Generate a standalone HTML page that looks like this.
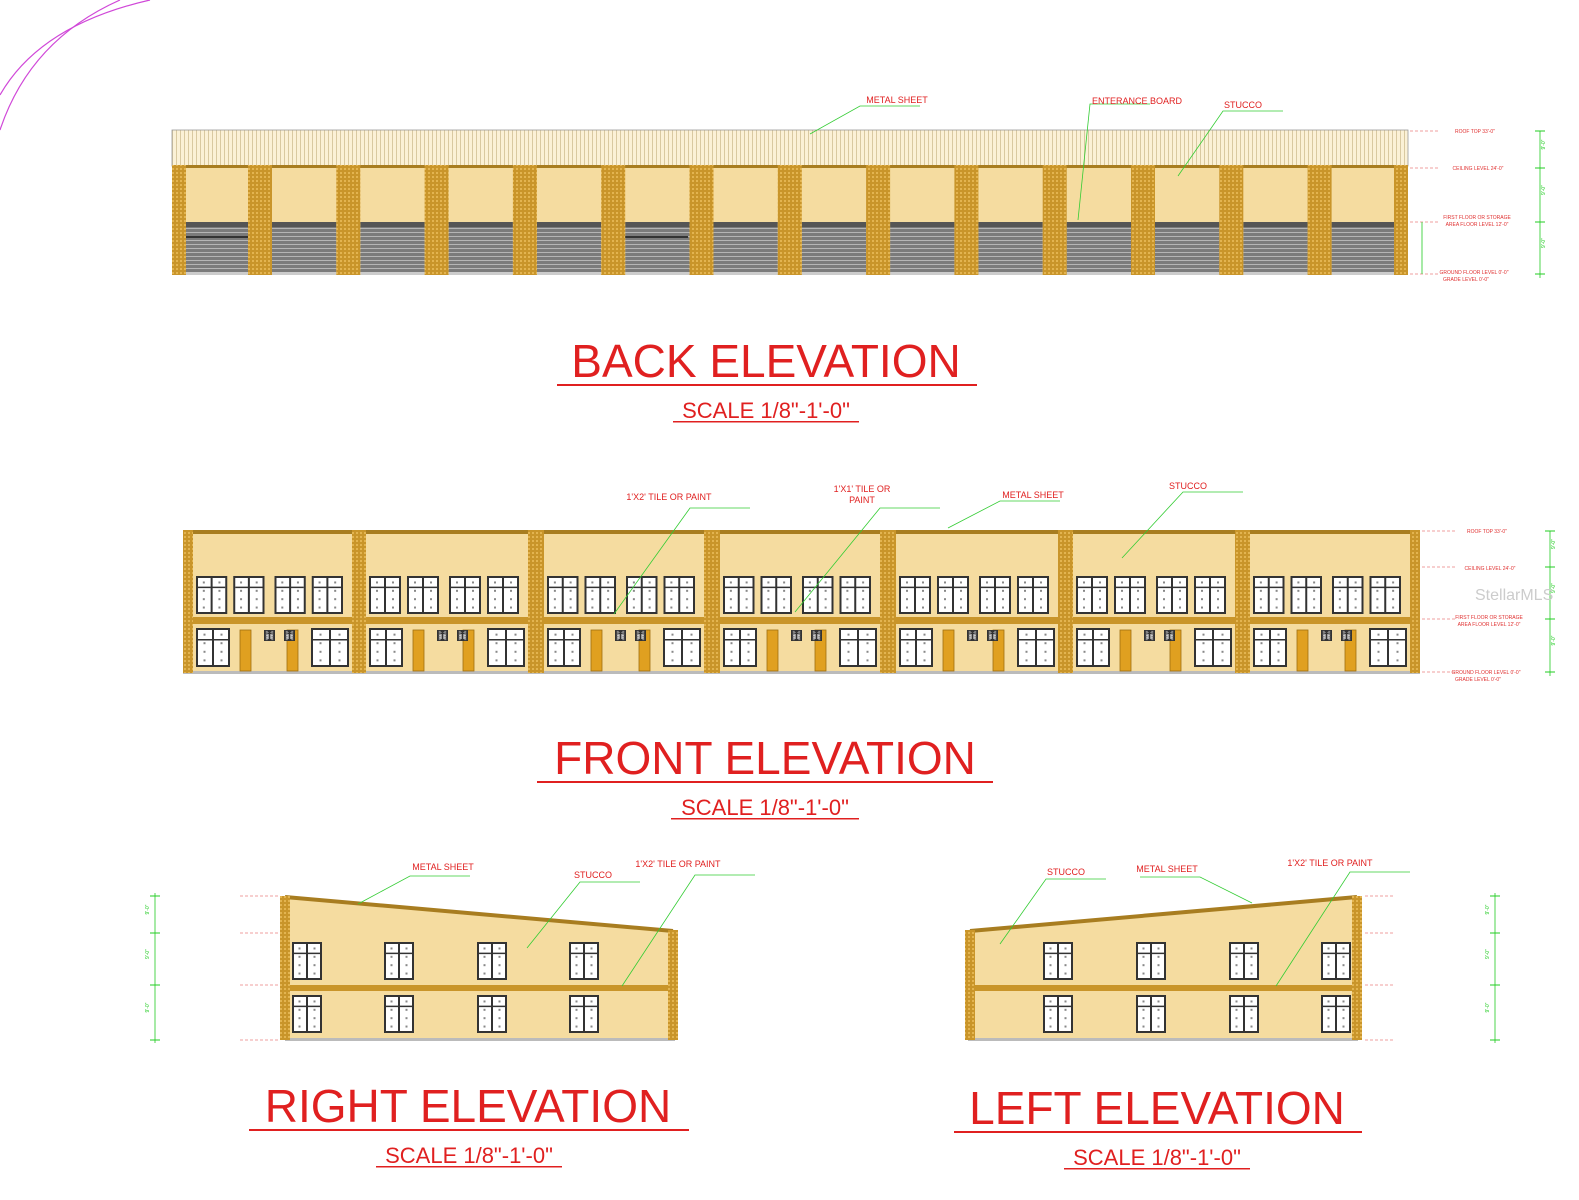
<!DOCTYPE html>
<html><head><meta charset="utf-8"><style>
html,body{margin:0;padding:0;background:#fff;width:1579px;height:1200px;overflow:hidden}
svg{display:block}
text{font-family:"Liberation Sans",Arial,sans-serif}
</style></head><body>
<svg id="s" width="1579" height="1200" viewBox="0 0 1579 1200" xmlns="http://www.w3.org/2000/svg">
<defs>
<pattern id="brick" width="4" height="4" patternUnits="userSpaceOnUse"><rect width="4" height="4" fill="#c9952a"/><rect width="2" height="2" fill="#e3b450"/></pattern>
<pattern id="roof" width="4" height="10" patternUnits="userSpaceOnUse"><rect width="4" height="10" fill="#fbf1d6"/><rect width="1" height="10" fill="#d9c9a0"/></pattern>
<pattern id="door" width="10" height="4" patternUnits="userSpaceOnUse"><rect width="10" height="4" fill="#7b7b7b"/><rect width="10" height="1" fill="#b5b5b5"/></pattern>
</defs>
<path d="M0,95 Q40,25 150,0" fill="none" stroke="#d048d8" stroke-width="1.2"/>
<path d="M0,130 Q30,40 120,0" fill="none" stroke="#d048d8" stroke-width="1.2"/>
<g id="g"></g>
<g fill="#e02020" text-anchor="middle">
<text x="766" y="377" font-size="46">BACK ELEVATION</text>
<rect x="557" y="384" width="420" height="2"/>
<text x="766" y="418" font-size="22">SCALE 1/8"-1'-0"</text>
<rect x="673" y="421" width="186" height="1.5"/>
<text x="765" y="774" font-size="46">FRONT ELEVATION</text>
<rect x="537" y="781" width="456" height="2"/>
<text x="765" y="815" font-size="22">SCALE 1/8"-1'-0"</text>
<rect x="671" y="818" width="188" height="1.5"/>
<text x="468" y="1122" font-size="46">RIGHT ELEVATION</text>
<rect x="249" y="1129" width="440" height="2"/>
<text x="469" y="1163" font-size="22">SCALE 1/8"-1'-0"</text>
<rect x="376" y="1166" width="186" height="1.5"/>
<text x="1157" y="1124" font-size="46">LEFT ELEVATION</text>
<rect x="954" y="1131" width="408" height="2"/>
<text x="1157" y="1165" font-size="22">SCALE 1/8"-1'-0"</text>
<rect x="1064" y="1168" width="186" height="1.5"/>
</g>
<g fill="#e02020" font-size="9" text-anchor="middle">
<text x="897" y="103">METAL SHEET</text>
<text x="1137" y="104">ENTERANCE BOARD</text>
<text x="1243" y="108">STUCCO</text>
<text x="669" y="500">1'X2' TILE OR PAINT</text>
<text x="862" y="492">1'X1' TILE OR</text><text x="862" y="503">PAINT</text>
<text x="1033" y="498">METAL SHEET</text>
<text x="1188" y="489">STUCCO</text>
<text x="443" y="870">METAL SHEET</text>
<text x="593" y="878">STUCCO</text>
<text x="678" y="867">1'X2' TILE OR PAINT</text>
<text x="1066" y="875">STUCCO</text>
<text x="1167" y="872">METAL SHEET</text>
<text x="1330" y="866">1'X2' TILE OR PAINT</text>
</g>
<g fill="#e03030" font-size="5" text-anchor="middle">
<text x="1475" y="133">ROOF TOP 33'-0"</text>
<text x="1478" y="170">CEILING LEVEL 24'-0"</text>
<text x="1477" y="219">FIRST FLOOR OR STORAGE</text><text x="1477" y="226">AREA FLOOR LEVEL 12'-0"</text>
<text x="1474" y="274">GROUND FLOOR LEVEL 0'-0"</text><text x="1466" y="281">GRADE LEVEL 0'-0"</text>
<text x="1487" y="533">ROOF TOP 33'-0"</text>
<text x="1490" y="570">CEILING LEVEL 24'-0"</text>
<text x="1489" y="619">FIRST FLOOR OR STORAGE</text><text x="1489" y="626">AREA FLOOR LEVEL 12'-0"</text>
<text x="1486" y="674">GROUND FLOOR LEVEL 0'-0"</text><text x="1478" y="681">GRADE LEVEL 0'-0"</text>
</g>
<text x="1475" y="600" font-size="16" fill="#ccc" font-family="Liberation Sans">StellarMLS</text>
</svg>
<script>
var g=document.getElementById('g'),h='';
function R(x,y,w,hh,f,st){h+='<rect x="'+x+'" y="'+y+'" width="'+w+'" height="'+hh+'" fill="'+f+'"'+(st?' stroke="'+st+'" stroke-width="0.8"':'')+'/>';}
function L(x1,y1,x2,y2,c,w,d){h+='<line x1="'+x1+'" y1="'+y1+'" x2="'+x2+'" y2="'+y2+'" stroke="'+c+'" stroke-width="'+(w||1)+'"'+(d?' stroke-dasharray="'+d+'"':'')+'/>';}
function win(x,y,w,hh){R(x,y,w,hh,'#333');R(x+2,y+2,w/2-3,hh-4,'#fff');R(x+w/2+1,y+2,w/2-3,hh-4,'#fff');L(x+2,y+hh*0.3,x+w-2,y+hh*0.3,'#333',1.5);
 for(var i=0;i<2;i++)for(var j=0;j<4;j++)R(x+w*(0.25+0.5*i)-1,y+hh*(0.17+0.22*j)-1,2,2,'#888');}
R(172,130,1236,36,'url(#roof)','#999');
R(172,165,1236,110,'#f5dca0');R(172,165,1236,3,'#a87d20');
var p=[[172,186]];for(var i=1;i<14;i++){var c=260+88.3*(i-1);p.push([c-12,c+12]);}p.push([1394,1408]);
for(var i=0;i<14;i++){var a=p[i][1],b=p[i+1][0];R(a,222,b-a,5,'#555');R(a,227,b-a,46,'url(#door)');R(a,272,b-a,3,'#ccc');}
R(186,236,62,2,'#333');R(625,236,63,2,'#333');
p.forEach(function(q){R(q[0],165,q[1]-q[0],110,'url(#brick)');});
[131,168,222,274].forEach(function(y){L(1410,y,1440,y,'#e04040',0.6,'3 2');L(1535,y,1545,y,'#2c2',1);});
L(1540,131,1540,278,'#2c2',0.8);L(1422,222,1422,274,'#2c2',0.8);
R(183,530,1237,143,'#f5dca0');R(183,530,1237,4,'#a87d20');R(183,617,1237,7,'#c9952a');R(183,671,1237,3,'#bbb');
var fp=[183,352,528,704,880,1058,1235,1410];var fw=[10,14,16,16,16,15,15,10];
for(var u=0;u<7;u++){var x0=fp[u]+fw[u]+3,x1=fp[u+1]-3,wd=x1-x0;
 var ws=(wd-4)/4;for(var k=0;k<4;k++)win(x0+k*ws+(k>1?4:0),576,ws-6,38);
 win(x0,628,34,39);win(x1-38,628,38,39);
 R(x0+44,630,11,41,'#e0a020','#a07010');R(x1-62,630,11,41,'#e0a020','#a07010');
 win(x0+68,630,11,11);win(x0+88,630,11,11);}
fp.forEach(function(x,i){R(x,530,fw[i],143,'url(#brick)');});
[531,567,619,672].forEach(function(y){L(1422,y,1455,y,'#e04040',0.6,'3 2');L(1545,y,1555,y,'#2c2',1);});
L(1550,531,1550,676,'#2c2',0.8);
h+='<polygon points="285,896 673,930 673,1040 285,1040" fill="#f5dca0"/>';
L(285,897,673,931,'#a87d20',4);R(285,985,390,6,'#c9952a');R(285,1038,390,3,'#bbb');
[292,384,477,569].forEach(function(x){win(x,942,30,38);win(x,995,30,38);});
R(280,896,10,144,'url(#brick)');R(668,930,10,110,'url(#brick)');
[896,933,985,1040].forEach(function(y){L(150,y,160,y,'#2c2',1);L(240,y,278,y,'#e04040',0.6,'3 2');});L(155,893,155,1043,'#2c2',0.8);
h+='<polygon points="970,930 1357,896 1357,1040 970,1040" fill="#f5dca0"/>';
L(970,931,1357,897,'#a87d20',4);R(968,985,390,6,'#c9952a');R(968,1038,390,3,'#bbb');
[1043,1136,1229,1321].forEach(function(x){win(x,942,30,38);win(x,995,30,38);});
R(965,930,10,110,'url(#brick)');R(1352,896,10,144,'url(#brick)');
[896,933,985,1040].forEach(function(y){L(1365,y,1395,y,'#e04040',0.6,'3 2');L(1490,y,1500,y,'#2c2',1);});L(1495,893,1495,1043,'#2c2',0.8);
var ld=[[860,106,810,134],[1090,104,1078,220],[1223,111,1178,176],[690,508,614,614],[880,508,795,612],[1000,501,948,528],[1183,492,1122,558],
[410,876,358,904],[580,882,527,948],[695,875,622,986],[1046,879,1000,944],[1200,877,1252,903],[1350,872,1276,986]];
ld.forEach(function(a){h+='<polyline points="'+(a[0]+(a[0]<a[2]?-60:60))+','+a[1]+' '+a[0]+','+a[1]+' '+a[2]+','+a[3]+'" fill="none" stroke="#3c3" stroke-width="0.8"/>';});
function dimtxt(x,ys){for(var i=0;i<ys.length-1;i++){var y=(ys[i]+ys[i+1])/2;h+='<text x="'+(x-3)+'" y="'+y+'" font-size="5" fill="#2c2" transform="rotate(-90 '+(x-3)+' '+y+')">9\'-0"</text>';}}
dimtxt(1548,[131,168,222,274]);dimtxt(1558,[531,567,619,672]);dimtxt(152,[896,933,985,1040]);dimtxt(1492,[896,933,985,1040]);
g.innerHTML=h;
</script>
</body></html>
